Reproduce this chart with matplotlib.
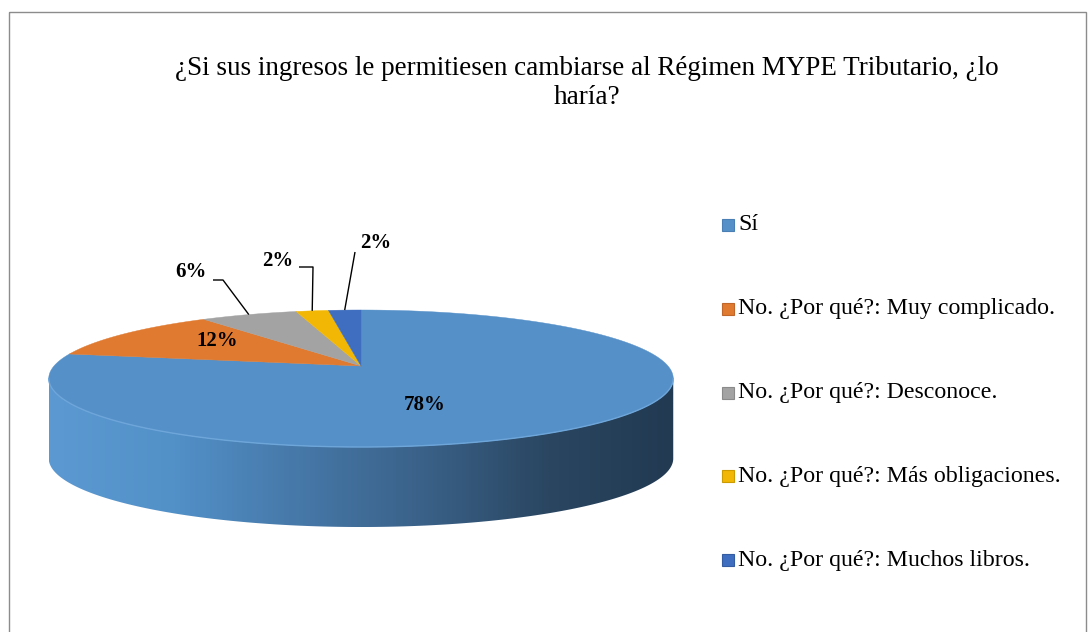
import numpy as np
import matplotlib
matplotlib.use("Agg")
import matplotlib.pyplot as plt
from matplotlib.patches import Polygon, Rectangle
from matplotlib.colors import LinearSegmentedColormap

# ---------------- data ----------------
categories = ["Sí",
              "No. ¿Por qué?: Muy complicado.",
              "No. ¿Por qué?: Desconoce.",
              "No. ¿Por qué?: Más obligaciones.",
              "No. ¿Por qué?: Muchos libros."]
values = [78, 12, 6, 2, 2]
colors = ["#5590C8", "#E07A30", "#A3A3A3", "#F2B705", "#3F6EC0"]
legend_edge = ["#4A7FB5", "#C0662A", "#8A8A8A", "#CC9B00", "#335CA3"]
title = "¿Si sus ingresos le permitiesen cambiarse al Régimen MYPE Tributario, ¿lo\nharía?"

plt.rcParams['font.family'] = ['Liberation Serif', 'DejaVu Serif']

W, H = 1088, 632
fig = plt.figure(figsize=(W / 100, H / 100), dpi=100)
ax = fig.add_axes([0, 0, 1, 1])
ax.set_xlim(0, W)
ax.set_ylim(H, 0)
ax.axis('off')

# frame
ax.add_patch(Rectangle((8.5, 11.5), 1077, 640, fill=False, ec="#8C8C8C", lw=1.0))

# ---------------- 3D pie geometry (layout) ----------------
CX, A_X = 361.0, 307.0
PA, PB, PC = -0.57, 366.0, -0.1825
DEPTH = 80.0


def proj(phi_deg, r=1.0, dz=0.0):
    phi = np.radians(phi_deg)
    u = r * np.sin(phi)
    v = -r * np.cos(phi)
    den = 1 + PC * v
    return CX + A_X * u / den, (PA * v + PB) / den + dz


total = float(sum(values))
bounds = np.concatenate([[0], np.cumsum(values)]) / total * 360.0

# side (front) of the pie
phis = np.linspace(0, 360, 3601)
xs, _ = proj(phis)
phi_r = phis[np.argmax(np.where(phis < 180, xs, -1e9))]
phi_l = phis[np.argmin(np.where(phis > 180, xs, 1e9))]
arc = np.linspace(phi_r, phi_l, 400)
tx, ty = proj(arc)
bx, by = proj(arc[::-1], dz=DEPTH)
side_pts = np.column_stack([np.concatenate([tx, bx]), np.concatenate([ty, by])])
side = Polygon(side_pts, closed=True, fc="none", ec="none")
ax.add_patch(side)
cmap = LinearSegmentedColormap.from_list(
    "side", ["#5C99D2", "#5290C8", "#4678A8", "#3A6188", "#2A4661", "#223A52"])
grad = np.linspace(0, 1, 512).reshape(1, -1)
xmin, xmax = side_pts[:, 0].min(), side_pts[:, 0].max()
ymin, ymax = side_pts[:, 1].min(), side_pts[:, 1].max()
im = ax.imshow(grad, cmap=cmap, aspect='auto', extent=[xmin, xmax, ymax, ymin],
               interpolation='bilinear', zorder=1)
im.set_clip_path(side)

# top faces
for i, (v, c) in enumerate(zip(values, colors)):
    a0, a1 = bounds[i], bounds[i + 1]
    ang = np.linspace(a0, a1, max(int((a1 - a0) * 4), 4))
    px, py = proj(ang)
    cx0, cy0 = proj(0.0, r=0.0)
    pts = np.column_stack([np.concatenate([[cx0], px]), np.concatenate([[cy0], py])])
    ax.add_patch(Polygon(pts, closed=True, fc=c, ec=c, lw=0.3, zorder=2))

# highlight edge between top face and side
ax.plot(tx, ty, color="#6EA6DA", lw=1.0, zorder=3)

# ---------------- data labels ----------------
pct = [f"{round(v / total * 100):d}%" for v in values]
lab_fs = 15
# inside labels
inside_pos = {0: (425, 405), 1: (217, 341)}
for i, (x, y) in inside_pos.items():
    ax.text(x, y, pct[i], ha='center', va='center', fontsize=lab_fs,
            fontweight='bold', zorder=5)

# outside labels with leader lines
outside = {2: ((191, 272), (213, 280), (223, 280)),
           3: ((278, 261), (299, 267), (313, 267)),
           4: ((376, 243), (355, 252), (355, 252))}
for i, (lp, p0, p1) in outside.items():
    ax.text(lp[0], lp[1], pct[i], ha='center', va='center', fontsize=lab_fs,
            fontweight='bold', zorder=5)
    mid = (bounds[i] + bounds[i + 1]) / 2
    ex, ey = proj(mid)
    ax.plot([p0[0], p1[0], ex], [p0[1], p1[1], ey], color='black', lw=1.0,
            zorder=4, solid_capstyle='butt')

# ---------------- title ----------------
ax.text(587, 83, title, ha='center', va='center', fontsize=19.5,
        linespacing=1.25, zorder=5)

# ---------------- legend ----------------
for i, (lab, c, e) in enumerate(zip(categories, colors, legend_edge)):
    y = 225 + i * 83.8
    ax.add_patch(Rectangle((721.5, y - 6), 12, 12, fc=c, ec=e, lw=0.8, zorder=5))
    ax.text(738, y, lab, ha='left', va='center', fontsize=17.2, zorder=5)

fig.savefig("out.png", dpi=100)
